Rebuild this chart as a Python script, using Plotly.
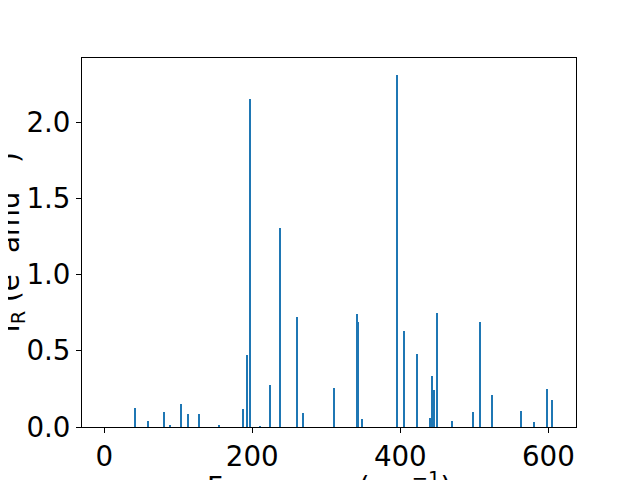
import plotly.graph_objects as go

freqs = [41.1, 59.5, 80.7, 89.2, 103.6, 113.1, 128.0, 155.4, 187.0, 192.8, 197.3,
         210.8, 224.8, 237.4, 261.3, 269.0, 310.0, 341.9, 343.2, 348.6, 395.1,
         405.4, 423.0, 439.7, 442.4, 446.0, 450.0, 470.3, 498.6, 507.7, 524.3,
         563.0, 581.0, 598.6, 605.4]
intensities = [0.125, 0.04, 0.098, 0.01, 0.15, 0.085, 0.085, 0.013, 0.118, 0.47, 2.15,
               0.006, 0.275, 1.305, 0.72, 0.092, 0.256, 0.741, 0.689, 0.052, 2.31,
               0.63, 0.479, 0.059, 0.334, 0.243, 0.748, 0.04, 0.098, 0.689, 0.21,
               0.105, 0.033, 0.249, 0.177]
x_ticks = [0, 200, 400, 600]
y_ticks = [0.0, 0.5, 1.0, 1.5, 2.0]

fig = go.Figure()
fig.add_trace(go.Bar(x=freqs, y=intensities, width=1.8,
                     marker=dict(color="#1f77b4", line=dict(width=0))))

font = dict(family="DejaVu Sans", size=27.7, color="black")
fig.update_layout(
    width=640, height=480,
    margin=dict(l=74, r=72, t=50, b=61),
    plot_bgcolor="white", paper_bgcolor="white",
    showlegend=False, bargap=0,
    font=font,
    xaxis=dict(range=[-30.1, 637.4], tickvals=x_ticks, ticks="outside", ticklen=5,
               tickcolor="black", showline=True, linecolor="black", linewidth=1,
               mirror=True, showgrid=False, zeroline=False, tickfont=font),
    yaxis=dict(range=[0, 2.42], tickvals=y_ticks, tickformat=".1f", ticks="outside",
               ticklen=5, tickcolor="black", showline=True, linecolor="black",
               linewidth=1, mirror=True, showgrid=False, zeroline=False, tickfont=font),
    annotations=[
        dict(text="Frequency (cm<sup>−1</sup>)", xref="paper", yref="paper",
             x=0.5, y=-(457 - 419) / 369, xanchor="center", yanchor="top",
             showarrow=False, font=font),
        dict(text="I<sub>R</sub> (e<sup>2</sup> amu<sup>−1</sup>)", xref="paper", yref="paper",
             x=-(74 - 1) / 494, y=0.5, xanchor="center", yanchor="middle",
             textangle=-90, showarrow=False, font=font),
    ],
)
fig.write_html("out.html")
